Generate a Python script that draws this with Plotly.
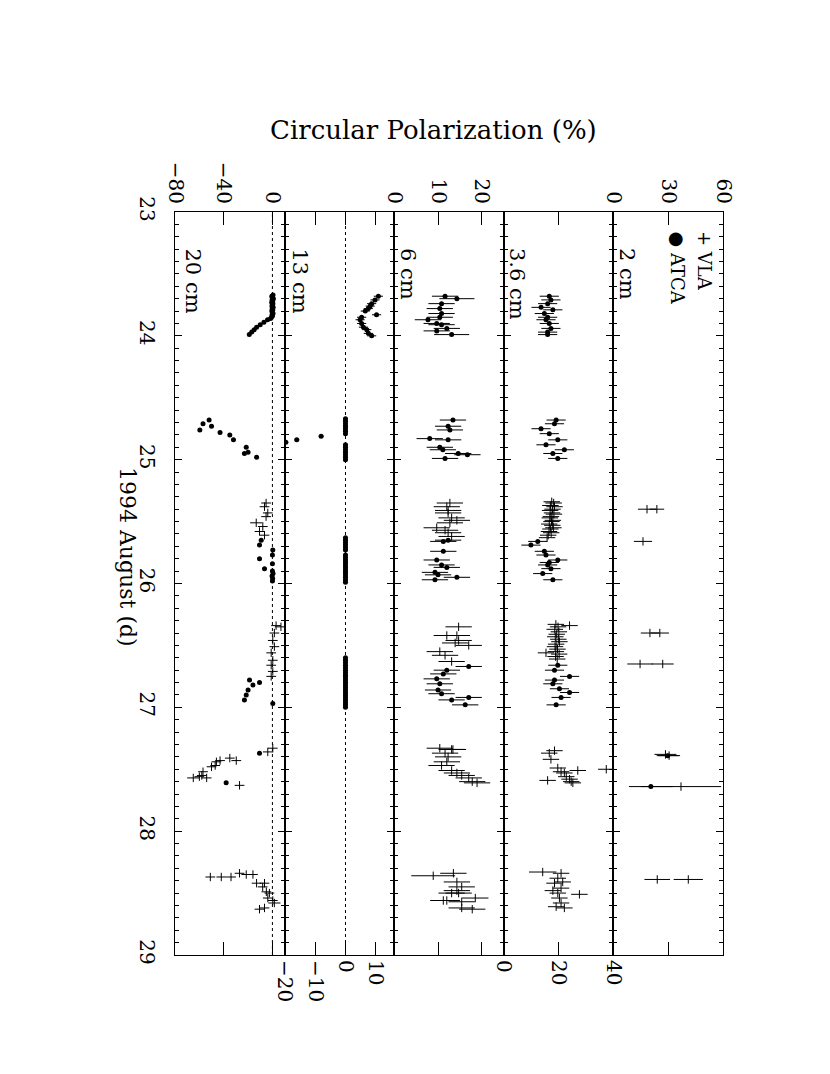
import plotly.graph_objects as go
from plotly.subplots import make_subplots

# ---------------- data (day of 1994 August, circular polarization %, error) ----------------
# 20 cm
c20_atca_day = [23.67,23.68,23.69,23.70,23.71,23.72,23.73,23.74,23.75,23.76,23.77,23.78,23.79,23.80,23.81,23.82,23.83,23.84,23.85,23.86,
                23.87,23.89,23.91,23.93,23.95,23.97,23.99,
                24.68,24.71,24.73,24.76,24.78,24.80,24.84,24.90,24.94,24.95,24.98,
                25.65,25.69,25.73,25.77,25.80,25.84,25.88,25.90,25.92,25.94,25.96,25.98,
                26.78,26.80,26.82,26.86,26.90,26.94,26.97,
                27.37,27.61]
c20_atca_val = [0.5,-0.5,0.0,0.8,-0.3,0.2,-0.6,0.4,0.0,-0.4,0.6,-0.2,0.3,-0.5,0.1,0.5,-0.3,0.0,-0.8,-1.5,
                -4,-7,-10,-13,-15,-17,-19,
                -52,-57,-50,-59.6,-43,-35,-32,-21.5,-20,-23,-13,
                -9.2,-10.6,0.3,0.0,-10.6,0.0,-6.5,0.0,0.5,-0.3,0.2,0.0,
                -18.8,-10.6,-16,-20,-21.5,-23,0.3,
                -10.6,-38]
c20_atca_err = [1.5]*len(c20_atca_day)

c20_vla_day = [25.35,25.38,25.43,25.46,25.51,25.54,25.58,25.61,
               26.34,26.35,26.40,26.46,26.51,26.56,26.62,26.66,26.71,26.75,
               27.33,27.36,27.41,27.43,27.43,27.44,27.47,27.48,27.52,27.55,27.56,27.57,27.57,27.63,
               28.34,28.35,28.35,28.37,28.37,28.37,28.42,28.42,28.45,28.49,28.50,28.54,28.56,28.58,28.62,28.63]
c20_vla_val = [-5.2,-6.5,-3.8,-5.2,-13.3,-7.9,-10.6,-6.5,
               3,7,1.6,0.3,1.6,-1,0.3,-1,0.3,-1,
               0.3,-3.8,-35,-29.7,-43,-46,-47,-50,-57,-58,-60,-65,-54,-27,
               -27,-21.5,-16,-51,-42,-34,-13,-6.5,-8,-5,-2.5,-3.8,0.3,1.6,-6.5,-10.6]
c20_vla_err = [4,4,4,4,5,4,4,4,
               4,5,4,4,4,4,4,4,4,4,
               4,4,4,4,4,4,4,4,4,4,4,5,4,4,
               4,4,4,4,4,4,4,4,4,4,4,4,4,5,4,4]

# 13 cm (ATCA only)
c13_atca_day = [23.68,23.71,23.74,23.76,23.78,23.80,23.83,23.85,23.87,23.90,23.93,23.95,23.98,24.00,
                24.67,24.69,24.71,24.73,24.75,24.77,24.79,24.81,24.84,24.86,
                24.88,24.90,24.92,24.94,24.96,24.98,25.00,
                25.63,25.65,25.67,25.69,25.71,25.73,
                25.77,25.79,25.81,25.83,25.85,25.87,25.89,25.91,25.93,25.95,25.97,25.99,
                26.60,26.62,26.64,26.66,26.68,26.70,26.72,26.74,26.76,26.78,26.80,
                26.82,26.84,26.86,26.88,26.90,26.92,26.94,26.96,26.98,27.00]
c13_atca_val = [10.8,9.7,8.6,8.1,7.5,6.5,10.2,5.3,4.8,5.3,5.9,7.0,7.5,8.6,
                0,0,0,0,0,0,0,-8,-16,-19.6,
                0,0,0,0,0,0,0,
                0,0,0,0,0,0,
                0,0,0,0,0,0,0,0,0,0,0,0,
                0,0,0,0,0,0,0,0,0,0,0,
                0,0,0,0,0,0,0,0,0,0]
c13_atca_err = [1.5]*14 + [0.8]*len(c13_atca_day[14:])

# 6 cm
c6_atca_day = [23.68,23.70,23.74,23.78,23.82,23.85,23.87,23.90,23.91,23.94,23.96,23.99,
               24.68,24.73,24.76,24.83,24.84,24.90,24.92,24.95,24.96,24.99,
               25.65,25.66,25.74,25.81,25.85,25.87,25.91,25.93,25.95,25.97,
               26.67,26.70,26.73,26.77,26.81,26.86,26.89,26.92,26.94,26.98]
c6_atca_val = [11.6,14.3,10.8,10.4,10.8,10.4,7.7,9.7,10.8,12.0,9.7,13.1,
               13.4,12.3,12.7,8.1,12.3,10.4,11.1,14.6,16.7,11.6,
               12.3,11.2,11.2,9.7,10.8,12.0,9.3,10.0,14.3,9.3,
               17.0,12.0,11.2,9.7,10.4,10.0,10.8,17.0,13.1,16.2]
c6_atca_err = [3,4,3,3,3,3,3,3,3,3,3,4,
               3,3,3,3,3,3,3,3,3,3,
               3,3,3,3,3,3,3,3,3,3,
               3,3,3,3,3,3,3,3,3,3]

c6_vla_day = [25.35,25.38,25.41,25.43,25.47,25.49,25.51,25.55,25.57,25.59,25.62,
              26.35,26.42,26.42,26.46,26.48,26.50,26.55,26.58,26.63,
              27.33,27.34,27.34,27.37,27.40,27.44,27.47,27.51,27.53,27.55,27.57,27.60,27.61,
              28.34,28.36,28.41,28.45,28.48,28.50,28.50,28.54,28.56,28.56,28.57,28.62,28.63]
c6_vla_val = [12.7,12.0,12.3,12.3,13.1,14.3,12.7,9.7,11.6,12.3,13.1,
              14.7,14.3,12.0,14.7,13.9,17.0,10.4,11.6,13.1,
              10.4,13.1,13.4,11.6,12.3,12.0,10.8,13.1,14.3,15.4,17.0,17.8,18.9,
              13.5,8.9,14.3,15.4,14.3,13.1,14.7,18.5,12.0,11.2,15.4,15.4,17.8]
c6_vla_err = [3,3,3,3,3,3,3,3,3,3,3,
              3,3,3,3,3,3,3,3,3,
              3,3,3,3,3,3,3,3,3,3,3,3,3,
              3,5,3,3,3,3,3,3,3,3,3,3,3]

# 3.6 cm
c36_atca_day = [23.68,23.71,23.74,23.77,23.79,23.82,23.85,23.87,23.90,23.94,23.97,23.99,
                24.68,24.71,24.75,24.79,24.84,24.88,24.92,24.95,24.99,
                25.66,25.69,25.74,25.77,25.81,25.83,25.85,25.88,25.92,25.97,
                26.66,26.70,26.75,26.78,26.81,26.85,26.88,26.92,26.98]
c36_atca_val = [16.6,17.2,16.0,13.6,17.9,14.8,16.0,15.4,16.6,17.2,16.0,16.0,
                19.1,18.5,13.6,16.6,19.7,15.4,22.1,17.9,19.7,
                12.4,9.9,14.8,15.4,19.7,16.6,16.0,17.2,14.2,17.9,
                19.7,18.5,24.0,18.5,17.9,20.3,24.0,20.9,19.1]
c36_atca_err = [3.5]*len(c36_atca_day)

c36_vla_day = [25.34,25.35,25.37,25.38,25.40,25.41,25.43,25.44,25.46,25.47,25.49,25.50,25.52,25.53,25.55,25.56,25.58,25.59,25.61,25.63,
               26.33,26.34,26.35,26.37,26.39,26.41,26.43,26.45,26.47,26.49,26.51,26.53,26.55,26.56,26.57,26.59,26.61,
               27.35,27.37,27.42,27.49,27.50,27.51,27.52,27.53,27.56,27.58,27.59,27.60,27.61,
               28.33,28.34,28.38,28.41,28.42,28.46,28.48,28.50,28.51,28.54,28.58,28.61,28.62]
c36_vla_val = [17.5,18.2,17.0,18.5,17.8,16.9,17.6,18.3,17.2,16.8,17.9,17.4,16.6,17.7,18.1,17.0,16.5,17.3,16.2,15.8,
               19.0,24.0,19.8,18.6,20.1,19.3,18.8,19.9,20.3,19.1,18.7,19.6,19.0,15.4,20.2,18.9,19.5,
               18.5,16.6,17.2,19.7,37.4,27.0,20.9,22.1,22.8,24.0,16.0,24.6,25.2,
               14.2,20.9,19.7,21.5,18.5,20.9,17.9,19.7,27.6,20.3,20.9,19.1,22.1]
c36_vla_err = [3,3,3,3,3,3,3,3,3,3,3,3,3,3,3,3,3,3,3,3,
               3,3,3,3,3,3,3,3,3,3,3,3,3,3,3,3,3,
               3,3,3,3,3,3,3,3,3,3,3,3,3,
               5,3,3,3,3,3,3,3,3,3,3,3,3]

# 2 cm
c2_vla_day = [25.40,25.40,25.66,26.40,26.40,26.65,26.65,27.38,27.39,27.64,28.39,28.39]
c2_vla_val = [18.4,23.8,16.2,20.0,25.4,14.6,27.0,28.5,30.5,37.0,24.0,41.0]
c2_vla_err = [5,4,5,5,5,7,6,6,6,22,7,8]
c2_atca_day = [27.39,27.64]
c2_atca_val = [29.7,20.5]
c2_atca_err = [6,12]

# panel settings (left to right in the rotated figure)
panel_names = ["20 cm", "13 cm", "6 cm", "3.6 cm", "2 cm"]
panel_ranges = [[-80, 10], [-20, 16], [0, 25], [0, 40], [0, 60]]
panel_ticks = [[-80, -40, 0], [-20, -10, 0, 10], [0, 10, 20], [0, 20, 40], [0, 30, 60]]
panel_sides = ["top", "bottom", "top", "bottom", "top"]
day_range = [29, 23]
day_ticks = [23, 24, 25, 26, 27, 28, 29]

atca_sets = [(c20_atca_day, c20_atca_val, c20_atca_err),
             (c13_atca_day, c13_atca_val, c13_atca_err),
             (c6_atca_day, c6_atca_val, c6_atca_err),
             (c36_atca_day, c36_atca_val, c36_atca_err),
             (c2_atca_day, c2_atca_val, c2_atca_err)]
vla_sets = [(c20_vla_day, c20_vla_val, c20_vla_err),
            None,
            (c6_vla_day, c6_vla_val, c6_vla_err),
            (c36_vla_day, c36_vla_val, c36_vla_err),
            (c2_vla_day, c2_vla_val, c2_vla_err)]

FONT = "DejaVu Serif"
# page body has an 8px default margin; positions below are in target-image pixels
OFF = 8
L, R, T, B = 175, 723, 212, 955
W, H = 830, 1074

def px(xp):
    return (xp - L) / (R - L)

def py(yp):
    return (B - yp) / (B - T)

fig = make_subplots(rows=1, cols=5, shared_yaxes=True, horizontal_spacing=0)

for i in range(5):
    col = i + 1
    if vla_sets[i] is not None:
        d, v, e = vla_sets[i]
        fig.add_trace(go.Scatter(
            x=v, y=d, mode="markers",
            marker=dict(symbol="line-ns", size=6, color="black", line=dict(width=1, color="black")),
            error_x=dict(type="data", array=e, color="black", thickness=1, width=0),
            showlegend=False, hoverinfo="skip"), row=1, col=col)
    d, v, e = atca_sets[i]
    fig.add_trace(go.Scatter(
        x=v, y=d, mode="markers",
        marker=dict(symbol="circle", size=5, color="black"),
        error_x=dict(type="data", array=e, color="black", thickness=1, width=0),
        showlegend=False, hoverinfo="skip"), row=1, col=col)

    fig.update_xaxes(
        range=panel_ranges[i], tickmode="array", tickvals=panel_ticks[i],
        ticktext=[("\u2212" + str(abs(t))) if t < 0 else str(t) for t in panel_ticks[i]],
        side=panel_sides[i], tickangle=90, ticks="inside", ticklen=13, tickwidth=1,
        tickcolor="black", mirror="ticks", showline=True, linecolor="black", linewidth=1,
        showgrid=False, zeroline=False,
        tickfont=dict(family=FONT, size=20, color="black"),
        row=1, col=col)
    fig.update_yaxes(
        range=day_range, tickmode="array", tickvals=day_ticks,
        ticks="inside", ticklen=7, tickwidth=1, tickcolor="black",
        minor=dict(dtick=0.1, tick0=23, ticks="inside", ticklen=4, tickcolor="black", tickwidth=1),
        mirror="ticks", showline=True, linecolor="black", linewidth=1,
        showgrid=False, zeroline=False,
        row=1, col=col)

fig.update_yaxes(showticklabels=True, tickangle=90,
                 tickfont=dict(family=FONT, size=20, color="black"), ticklabelstandoff=10,
                 row=1, col=1)

# dotted zero lines in the 20 cm and 13 cm panels
for xr, yr in [("x", "y domain"), ("x2", "y2 domain")]:
    fig.add_shape(type="line", xref=xr, yref=yr, x0=0, x1=0, y0=0, y1=1,
                  line=dict(color="black", width=1, dash="dot"))

# panel names
name_x = [193, 300, 408, 517, 627]
annotations = []
for nm, nx in zip(panel_names, name_x):
    annotations.append(dict(text=nm, x=px(nx), y=py(246), xref="paper", yref="paper",
                            xanchor="center", yanchor="top", textangle=90, showarrow=False,
                            font=dict(family=FONT, size=21, color="black")))
# legend
annotations.append(dict(text="+ VLA", x=px(705), y=py(229), xref="paper", yref="paper",
                        xanchor="center", yanchor="top", textangle=90, showarrow=False,
                        font=dict(family=FONT, size=18, color="black")))
annotations.append(dict(text="\u25cf ATCA", x=px(677), y=py(229), xref="paper", yref="paper",
                        xanchor="center", yanchor="top", textangle=90, showarrow=False,
                        font=dict(family=FONT, size=18, color="black")))
# axis titles
annotations.append(dict(text="Circular Polarization (%)", x=px(433), y=py(130),
                        xref="paper", yref="paper", xanchor="center", yanchor="middle", showarrow=False,
                        font=dict(family=FONT, size=26, color="black")))
annotations.append(dict(text="1994 August (d)", x=px(128), y=py(557),
                        xref="paper", yref="paper", xanchor="center", yanchor="middle", textangle=90,
                        showarrow=False, font=dict(family=FONT, size=22, color="black")))

fig.update_layout(
    width=W, height=H,
    margin=dict(l=L - OFF, r=W - R + OFF, t=T - OFF, b=H - B + OFF),
    paper_bgcolor="white", plot_bgcolor="white",
    annotations=annotations, showlegend=False,
)

fig.write_html("out.html")
